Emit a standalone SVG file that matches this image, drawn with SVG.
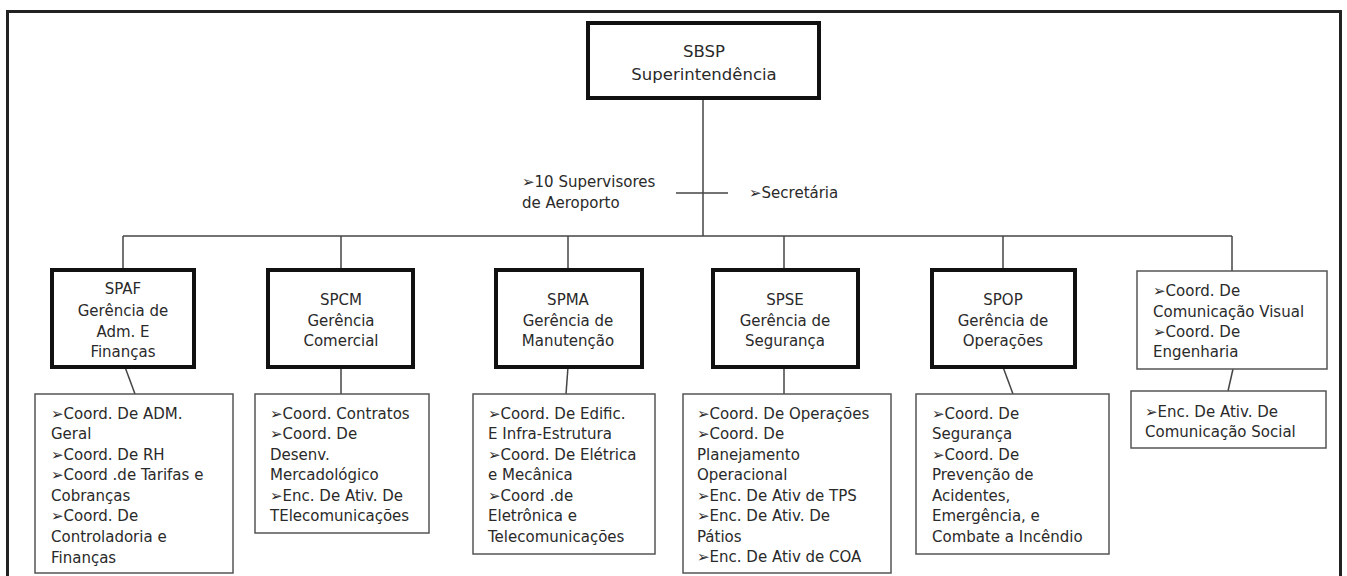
<svg xmlns="http://www.w3.org/2000/svg" width="1347" height="576" viewBox="0 0 1347 576">
<style>
text{font-family:"DejaVu Sans","Verdana",sans-serif;font-size:15px;fill:#2a2a2a}
.c{text-anchor:middle}
.big{font-size:16.5px}
.thick{fill:#fff;stroke:#111;stroke-width:4}
.thin{fill:#fff;stroke:#555;stroke-width:1.5}
.ln{stroke:#444;stroke-width:1.5;fill:none}
</style>
<rect x="0" y="0" width="1347" height="576" fill="#fff"/>
<path d="M7.5,590 V11.5 H1340.5 V590" fill="none" stroke="#222" stroke-width="3"/>
<g id="connectors">
<line class="ln" x1="703" y1="99" x2="703" y2="236"/>
<line class="ln" x1="676" y1="193" x2="728" y2="193"/>
<line class="ln" x1="123" y1="236" x2="1232" y2="236"/>
<line class="ln" x1="123" y1="236" x2="123" y2="269"/>
<line class="ln" x1="341" y1="236" x2="341" y2="269"/>
<line class="ln" x1="568" y1="236" x2="568" y2="269"/>
<line class="ln" x1="784" y1="236" x2="784" y2="269"/>
<line class="ln" x1="1003" y1="236" x2="1003" y2="269"/>
<line class="ln" x1="1232" y1="236" x2="1232" y2="271"/>
<line class="ln" x1="125" y1="367" x2="135" y2="394"/>
<line class="ln" x1="341" y1="367" x2="341" y2="394"/>
<line class="ln" x1="568" y1="367" x2="566" y2="394"/>
<line class="ln" x1="784" y1="367" x2="784" y2="394"/>
<line class="ln" x1="1003" y1="367" x2="1013" y2="394"/>
<line class="ln" x1="1233" y1="369" x2="1228" y2="391"/>
</g>
<g id="sbsp">
<rect class="thick" x="588" y="23" width="231" height="75"/>
<text class="c big" x="704" y="57">SBSP</text>
<text class="c big" x="704" y="80">Superintendência</text>
</g>
<g id="supervisores">
<text x="522" y="187">➢10 Supervisores</text>
<text x="522" y="208">de Aeroporto</text>
</g>
<g id="secretaria">
<text x="749" y="198">➢Secretária</text>
</g>
<g id="spaf">
<rect class="thick" x="52" y="270" width="142" height="97"/>
<text class="c" x="123" y="294">SPAF</text>
<text class="c" x="123" y="316">Gerência de</text>
<text class="c" x="123" y="337">Adm. E</text>
<text class="c" x="123" y="357">Finanças</text>
</g>
<g id="spaf-sub">
<rect class="thin" x="35" y="394" width="198" height="179"/>
<text x="51" y="419">➢Coord. De ADM.</text>
<text x="51" y="439">Geral</text>
<text x="51" y="460">➢Coord. De RH</text>
<text x="51" y="480">➢Coord .de Tarifas e</text>
<text x="51" y="501">Cobranças</text>
<text x="51" y="521">➢Coord. De</text>
<text x="51" y="542">Controladoria e</text>
<text x="51" y="563">Finanças</text>
</g>
<g id="spcm">
<rect class="thick" x="268" y="270" width="145" height="97"/>
<text class="c" x="341" y="305">SPCM</text>
<text class="c" x="341" y="326">Gerência</text>
<text class="c" x="341" y="346">Comercial</text>
</g>
<g id="spcm-sub">
<rect class="thin" x="255" y="394" width="174" height="139"/>
<text x="270" y="419">➢Coord. Contratos</text>
<text x="270" y="439">➢Coord. De</text>
<text x="270" y="460">Desenv.</text>
<text x="270" y="480">Mercadológico</text>
<text x="270" y="501">➢Enc. De Ativ. De</text>
<text x="270" y="521">TElecomunicações</text>
</g>
<g id="spma">
<rect class="thick" x="496" y="270" width="146" height="97"/>
<text class="c" x="568" y="305">SPMA</text>
<text class="c" x="568" y="326">Gerência de</text>
<text class="c" x="568" y="346">Manutenção</text>
</g>
<g id="spma-sub">
<rect class="thin" x="473" y="394" width="182" height="160"/>
<text x="488" y="419">➢Coord. De Edific.</text>
<text x="488" y="439">E Infra-Estrutura</text>
<text x="488" y="460">➢Coord. De Elétrica</text>
<text x="488" y="480">e Mecânica</text>
<text x="488" y="501">➢Coord .de</text>
<text x="488" y="521">Eletrônica e</text>
<text x="488" y="542">Telecomunicações</text>
</g>
<g id="spse">
<rect class="thick" x="713" y="270" width="145" height="97"/>
<text class="c" x="785" y="305">SPSE</text>
<text class="c" x="785" y="326">Gerência de</text>
<text class="c" x="785" y="346">Segurança</text>
</g>
<g id="spse-sub">
<rect class="thin" x="683" y="394" width="208" height="179"/>
<text x="697" y="419">➢Coord. De Operações</text>
<text x="697" y="439">➢Coord. De</text>
<text x="697" y="460">Planejamento</text>
<text x="697" y="480">Operacional</text>
<text x="697" y="501">➢Enc. De Ativ de TPS</text>
<text x="697" y="521">➢Enc. De Ativ. De</text>
<text x="697" y="542">Pátios</text>
<text x="697" y="562">➢Enc. De Ativ de COA</text>
</g>
<g id="spop">
<rect class="thick" x="932" y="270" width="143" height="97"/>
<text class="c" x="1003" y="305">SPOP</text>
<text class="c" x="1003" y="326">Gerência de</text>
<text class="c" x="1003" y="346">Operações</text>
</g>
<g id="spop-sub">
<rect class="thin" x="916" y="394" width="193" height="160"/>
<text x="932" y="419">➢Coord. De</text>
<text x="932" y="439">Segurança</text>
<text x="932" y="460">➢Coord. De</text>
<text x="932" y="480">Prevenção de</text>
<text x="932" y="501">Acidentes,</text>
<text x="932" y="521">Emergência, e</text>
<text x="932" y="542">Combate a Incêndio</text>
</g>
<g id="comunicacao">
<rect class="thin" x="1137" y="271" width="190" height="98"/>
<text x="1153" y="296">➢Coord. De</text>
<text x="1153" y="317">Comunicação Visual</text>
<text x="1153" y="337">➢Coord. De</text>
<text x="1153" y="357">Engenharia</text>
</g>
<g id="comunicacao-social">
<rect class="thin" x="1131" y="391" width="195" height="57"/>
<text x="1145" y="417">➢Enc. De Ativ. De</text>
<text x="1145" y="437">Comunicação Social</text>
</g>
</svg>
